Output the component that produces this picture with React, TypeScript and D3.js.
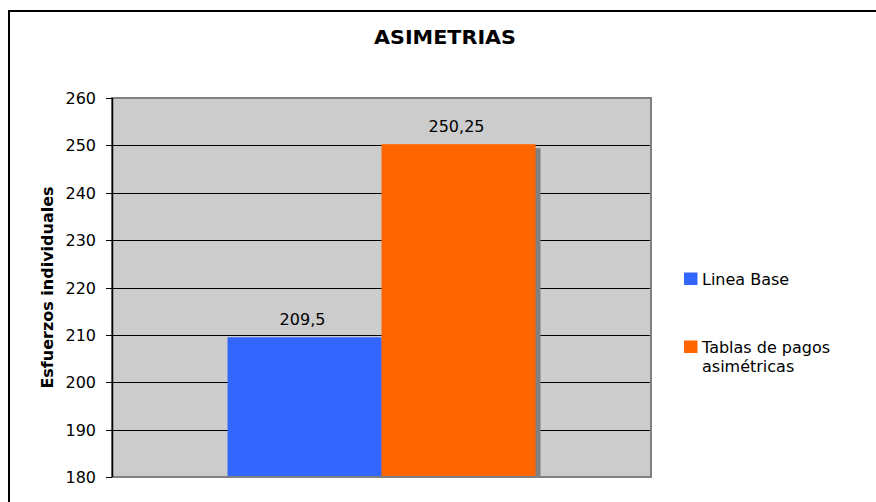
import React from "react";
import * as d3 from "d3";

const categories = ["ASIMETRIAS"];
const seriesNames = ["Linea Base", "Tablas de pagos asimétricas"];
const seriesValues = [209.5, 250.25];
const valueLabels = ["209,5", "250,25"];
const yTicks = [180, 190, 200, 210, 220, 230, 240, 250, 260];
const legendLines = [["Linea Base"], ["Tablas de pagos", "asimétricas"]];
const colors = ["#3366FF", "#FF6600"];

const W = 876;
const H = 502;
const plot = { left: 112, right: 651, top: 98, bottom: 477 };
const FONT = "'DejaVu Sans', Verdana, sans-serif";

export default function App() {
  const y = d3.scaleLinear().domain([180, 260]).range([plot.bottom, plot.top]);
  const x0 = d3
    .scaleBand<string>()
    .domain(categories)
    .range([plot.left, plot.right])
    .paddingInner(0)
    .paddingOuter(0.375);
  const x1 = d3
    .scaleBand<string>()
    .domain(seriesNames)
    .range([0, x0.bandwidth()])
    .padding(0);

  const cat = categories[0];
  const shadow = 5;

  return (
    <svg
      width={W}
      height={H}
      style={{ position: "absolute", left: 0, top: 0, display: "block" }}
      fontFamily={FONT}
    >
      <rect x={0} y={0} width={W} height={H} fill="#fff" />
      {/* chart frame */}
      <rect x={9} y={11} width={W + 20} height={H + 20} fill="none" stroke="#000" strokeWidth={2} />
      {/* title */}
      <text
        x={445}
        y={44}
        textAnchor="middle"
        fontWeight="bold"
        fontSize={19}
        textLength={142}
        lengthAdjust="spacingAndGlyphs"
        fill="#000"
      >
        {categories[0]}
      </text>
      {/* plot area */}
      <rect
        x={plot.left}
        y={plot.top}
        width={plot.right - plot.left}
        height={plot.bottom - plot.top}
        fill="#CCCCCC"
      />
      {/* gridlines */}
      {yTicks.slice(1, -1).map((t) => (
        <line
          key={t}
          x1={plot.left}
          x2={plot.right}
          y1={Math.round(y(t)) + 0.5}
          y2={Math.round(y(t)) + 0.5}
          stroke="#000"
          strokeWidth={1}
        />
      ))}
      {/* shadows */}
      {seriesNames.map((s, i) => {
        const bx = (x0(cat) ?? 0) + (x1(s) ?? 0);
        const top = y(seriesValues[i]);
        return (
          <rect
            key={"sh" + s}
            x={bx + shadow}
            y={top + 4}
            width={x1.bandwidth()}
            height={plot.bottom - top - 4}
            fill="#808080"
          />
        );
      })}
      {/* bars */}
      {seriesNames.map((s, i) => {
        const bx = (x0(cat) ?? 0) + (x1(s) ?? 0);
        const top = y(seriesValues[i]);
        return (
          <rect
            key={s}
            x={bx}
            y={top}
            width={x1.bandwidth()}
            height={plot.bottom - top}
            fill={colors[i]}
          />
        );
      })}
      {/* plot border */}
      <rect
        x={plot.left}
        y={plot.top}
        width={plot.right - plot.left}
        height={plot.bottom - plot.top}
        fill="none"
        stroke="#808080"
        strokeWidth={2}
      />
      {/* y axis line */}
      <line x1={plot.left + 0.5} x2={plot.left + 0.5} y1={plot.top} y2={plot.bottom} stroke="#000" strokeWidth={1.5} />
      {/* ticks */}
      {yTicks.map((t) => (
        <g key={"t" + t}>
          <line
            x1={106}
            x2={plot.left}
            y1={Math.round(y(t)) + 0.5}
            y2={Math.round(y(t)) + 0.5}
            stroke="#000"
          />
          <text x={96} y={y(t) + 6} textAnchor="end" fontSize={16} fill="#000">
            {t}
          </text>
        </g>
      ))}
      {/* value labels */}
      {seriesNames.map((s, i) => {
        const bx = (x0(cat) ?? 0) + (x1(s) ?? 0) + x1.bandwidth() / 2;
        return (
          <text
            key={"v" + s}
            x={bx - 2}
            y={y(seriesValues[i]) - 12.5}
            textAnchor="middle"
            fontSize={16}
            fill="#000"
          >
            {valueLabels[i]}
          </text>
        );
      })}
      {/* y axis title */}
      <text
        transform={`translate(53,${(plot.top + plot.bottom) / 2}) rotate(-90)`}
        textAnchor="middle"
        fontWeight="bold"
        fontSize={16}
        fill="#000"
      >
        Esfuerzos individuales
      </text>
      {/* legend */}
      {legendLines.map((lines, i) => {
        const baseY = i === 0 ? 285 : 353;
        return (
          <g key={"l" + i}>
            <rect x={684} y={baseY - 12.5} width={13.5} height={12.5} fill={colors[i]} />
            {lines.map((ln, j) => (
              <text key={j} x={702} y={baseY + j * 19} fontSize={16} fill="#000">
                {ln}
              </text>
            ))}
          </g>
        );
      })}
    </svg>
  );
}
